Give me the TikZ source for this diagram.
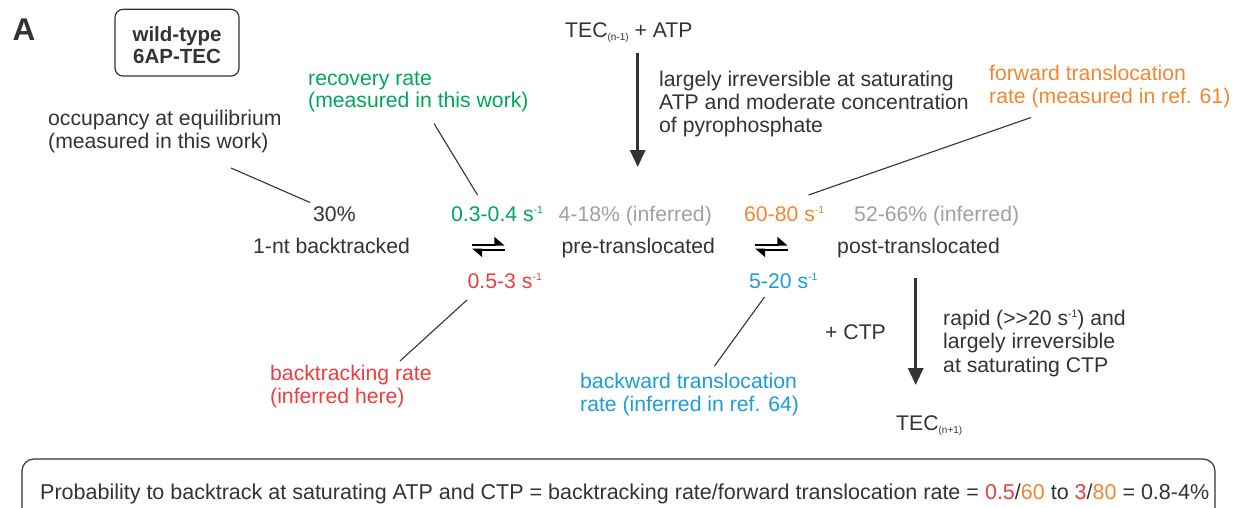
\documentclass[tikz,border=0pt]{standalone}
\usepackage{fontspec}
\setmainfont{Liberation Sans}
\usetikzlibrary{arrows.meta}

\definecolor{txt}{RGB}{51,51,51}
\definecolor{rgreen}{RGB}{0,166,90}
\definecolor{rgray}{RGB}{160,160,160}
\definecolor{rorange}{RGB}{243,134,48}
\definecolor{rred}{RGB}{239,60,60}
\definecolor{rblue}{RGB}{28,156,216}

% small raised / lowered indices
\newcommand{\upsc}[1]{\raisebox{7.6pt}{\fontsize{10.5}{10.5}\selectfont #1}}
\newcommand{\dnsc}[1]{\raisebox{-3pt}{\fontsize{10}{10}\selectfont #1}}

\begin{document}
\begin{tikzpicture}[x=1pt,y=-1pt,
  % multi-line labels are placed by the baseline of their last line
  lbl/.style={inner sep=0pt,anchor=base west,text=txt,align=left,
              font=\fontsize{21.2}{22.8}\selectfont},
  leader/.style={draw=txt,line width=1.1pt},
  bigarrow/.style={draw=txt,line width=3pt,-{Triangle[length=17pt,width=15pt]}},
  harpoon/.style={draw=black,line width=2pt,-{Triangle[left,length=9pt,width=15pt]}}
]
\useasboundingbox (0,0) rectangle (1233,508);

% panel letter and strain box
\node[lbl,font=\fontsize{31.5}{31.5}\selectfont\bfseries] (letter) at (12.5,40.7) {A};
\node[draw=txt,line width=1.2pt,rounded corners=8pt,minimum width=124pt,minimum height=66.7pt,
      inner sep=0pt,align=center,text=txt,font=\fontsize{20.5}{21.5}\selectfont\bfseries]
      (wt) at (177,42.7) {\rule{0pt}{20pt}wild-type\\6AP-TEC};

% annotation labels
\node[lbl] (occ) at (48,148.5) {occupancy at equilibrium\\(measured in this work)};
\node[lbl,text=rgreen] (rec) at (308,108) {recovery rate\\(measured in this work)};
\node[lbl] (tecA) at (565,38) {TEC\dnsc{(n-1)} + ATP};
\node[lbl] (irr1) at (659,132) {largely irreversible at saturating\\ATP and moderate concentration\\of pyrophosphate};
\node[lbl,text=rorange] (fwd) at (989,103) {forward translocation\\rate (measured in ref. 61)};

% values above the states
\node[lbl] (occval) at (313,221.5) {30\%};
\node[lbl,text=rgreen] (recval) at (451,221.5) {0.3-0.4 s\upsc{-1}};
\node[lbl,text=rgray] (preocc) at (558.5,221.5) {4-18\% (inferred)};
\node[lbl,text=rorange] (fwdval) at (744,221.5) {60-80 s\upsc{-1}};
\node[lbl,text=rgray] (postocc) at (854,221.5) {52-66\% (inferred)};

% states
\node[lbl] (bt) at (253,253.5) {1-nt backtracked};
\node[lbl] (pre) at (561.5,253.5) {pre-translocated};
\node[lbl] (post) at (837,253.5) {post-translocated};

% values below the states
\node[lbl,text=rred] (btval) at (467.5,288) {0.5-3 s\upsc{-1}};
\node[lbl,text=rblue] (bwval) at (749,288) {5-20 s\upsc{-1}};

% lower labels
\node[lbl,text=rred] (btlbl) at (270,403) {backtracking rate\\(inferred here)};
\node[lbl,text=rblue] (bwlbl) at (580,411) {backward translocation\\rate (inferred in ref. 64)};
\node[lbl] (ctp) at (825,339) {+ CTP};
\node[lbl,font=\fontsize{21.2}{23.3}\selectfont] (irr2) at (943,372) {rapid (>{}>20 s\upsc{-1}) and\\largely irreversible\\at saturating CTP};
\node[lbl] (tecB) at (896,430) {TEC\dnsc{(n+1)}};

% summary line
\node[lbl,font=\fontsize{21.5}{23}\selectfont] (summary) at (40,499.5) {Probability to backtrack at saturating ATP and CTP = backtracking rate/forward translocation rate = \textcolor{rred}{0.5}/\textcolor{rorange}{60} to \textcolor{rred}{3}/\textcolor{rorange}{80} = 0.8-4\%};
\draw[draw=txt,line width=1.2pt,rounded corners=12pt] (22,459) rectangle (1215,535);

% leader lines
\coordinate (occA) at (231,168);
\coordinate (occB) at (310,202.5);
\coordinate (recA) at (434,123.5);
\coordinate (recB) at (477.5,195);
\coordinate (fwdA) at (1031,117.5);
\coordinate (fwdB) at (808.5,195);
\coordinate (btA) at (467,300);
\coordinate (btB) at (400,361);
\coordinate (bwA) at (764.5,297);
\coordinate (bwB) at (714.5,366);
\draw[leader] (occA) -- (occB);
\draw[leader] (recA) -- (recB);
\draw[leader] (fwdA) -- (fwdB);
\draw[leader] (btA) -- (btB);
\draw[leader] (bwA) -- (bwB);

% irreversible steps
\coordinate (a1s) at (637.7,53);
\coordinate (a1e) at (637.7,167);
\coordinate (a2s) at (915.7,278);
\coordinate (a2e) at (915.7,385);
\draw[bigarrow] (a1s) -- (a1e);
\draw[bigarrow] (a2s) -- (a2e);

% reversible steps (harpoons)
\coordinate (h1a) at (472,244.5);
\coordinate (h1b) at (504.5,244.5);
\coordinate (h1c) at (504.5,249.5);
\coordinate (h1d) at (472,249.5);
\coordinate (h2a) at (755,244.5);
\coordinate (h2b) at (787.5,244.5);
\coordinate (h2c) at (787.5,249.5);
\coordinate (h2d) at (755,249.5);
\draw[harpoon] (h1a) -- (h1b);
\draw[harpoon] (h1c) -- (h1d);
\draw[harpoon] (h2a) -- (h2b);
\draw[harpoon] (h2c) -- (h2d);
\end{tikzpicture}
\end{document}
